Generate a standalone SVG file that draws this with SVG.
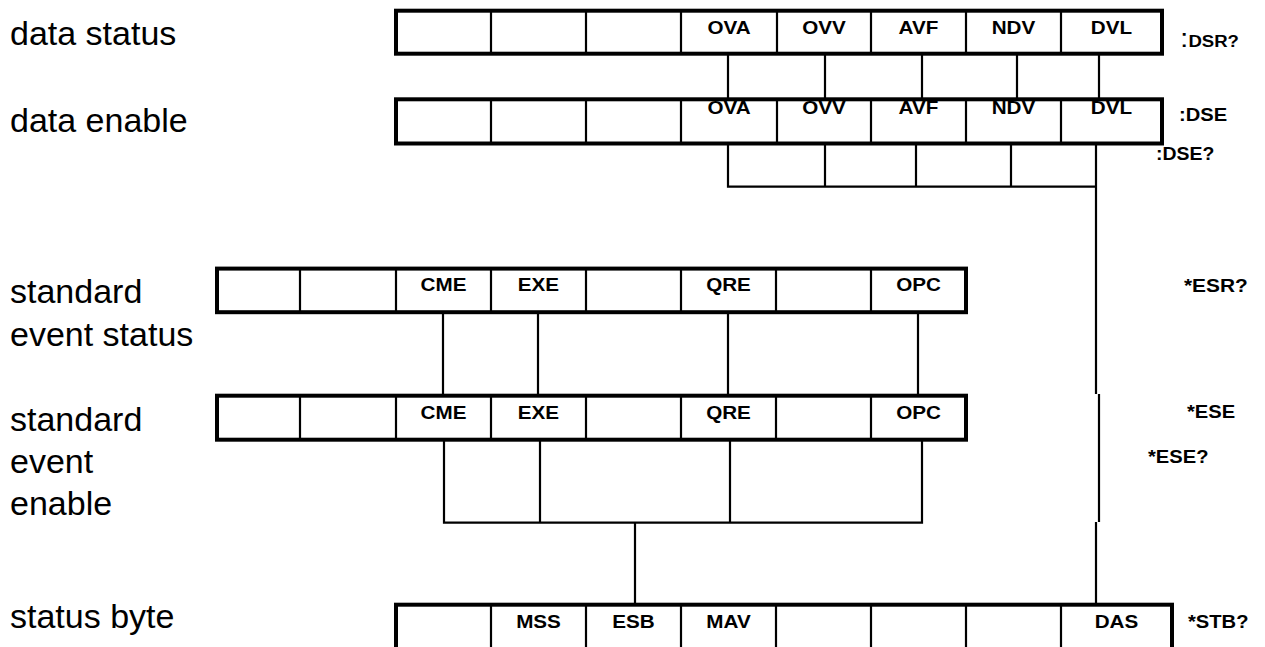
<svg xmlns="http://www.w3.org/2000/svg" width="1265" height="647" viewBox="0 0 1265 647">
<style>
.frame{fill:none;stroke:#000;stroke-width:4}
.div{fill:none;stroke:#000;stroke-width:2.2}
.conn{fill:none;stroke:#000;stroke-width:2.2}
.lbl{font-family:"Liberation Sans",Arial,sans-serif;font-size:34px;fill:#000}
.cell{font-family:"Liberation Sans",Arial,sans-serif;font-size:17.5px;font-weight:bold;text-anchor:middle;fill:#000}
.cmd{font-family:"Liberation Sans",Arial,sans-serif;font-size:18px;font-weight:bold;fill:#000}
</style>
<rect width="1265" height="647" fill="#fff"/>

<g id="labels">
<text class="lbl" x="10" y="45">data status</text>
<text class="lbl" x="10" y="132">data enable</text>
<text class="lbl" x="10" y="303">standard</text>
<text class="lbl" x="10" y="346">event status</text>
<text class="lbl" x="10" y="431">standard</text>
<text class="lbl" x="10" y="473">event</text>
<text class="lbl" x="10" y="515">enable</text>
<text class="lbl" x="10" y="628">status byte</text>
</g>

<g id="data-status">
<rect class="frame" x="396" y="10.7" width="766" height="43"/>
<path class="div" d="M491 10.7V53.7M586 10.7V53.7M681 10.7V53.7M777 10.7V53.7M871 10.7V53.7M966 10.7V53.7M1061 10.7V53.7"/>
<text class="cell" transform="translate(729,33.5) scale(1.18,1)">OVA</text>
<text class="cell" transform="translate(824,33.5) scale(1.18,1)">OVV</text>
<text class="cell" transform="translate(918.5,33.5) scale(1.18,1)">AVF</text>
<text class="cell" transform="translate(1013.5,33.5) scale(1.18,1)">NDV</text>
<text class="cell" transform="translate(1111.5,33.5) scale(1.18,1)">DVL</text>
<text class="cmd" transform="translate(1180,46.5) scale(1.16,1)"><tspan font-size="26" font-weight="normal">:</tspan><tspan font-size="16">DSR?</tspan></text>
</g>

<g id="data-enable">
<rect class="frame" x="396" y="99.3" width="766" height="44.2"/>
<path class="div" d="M491 99.3V143.5M586 99.3V143.5M681 99.3V143.5M777 99.3V143.5M871 99.3V143.5M966 99.3V143.5M1061 99.3V143.5"/>
<text class="cell" transform="translate(729,114.3) scale(1.18,1)">OVA</text>
<text class="cell" transform="translate(824,114.3) scale(1.18,1)">OVV</text>
<text class="cell" transform="translate(918.5,114.3) scale(1.18,1)">AVF</text>
<text class="cell" transform="translate(1013.5,114.3) scale(1.18,1)">NDV</text>
<text class="cell" transform="translate(1111.5,114.3) scale(1.18,1)">DVL</text>
<text class="cmd" transform="translate(1179,121) scale(1.12,1)">:DSE</text>
<text class="cmd" transform="translate(1156,160) scale(1.08,1)">:DSE?</text>
</g>

<g id="std-event-status">
<rect class="frame" x="217" y="268.6" width="749" height="43.6"/>
<path class="div" d="M300 268.6V312.2M396 268.6V312.2M491 268.6V312.2M586 268.6V312.2M681 268.6V312.2M776 268.6V312.2M871 268.6V312.2"/>
<text class="cell" transform="translate(443.5,290.7) scale(1.18,1)">CME</text>
<text class="cell" transform="translate(538.5,290.7) scale(1.18,1)">EXE</text>
<text class="cell" transform="translate(728.5,290.7) scale(1.18,1)">QRE</text>
<text class="cell" transform="translate(918.5,290.7) scale(1.18,1)">OPC</text>
<text class="cmd" transform="translate(1184,291.5) scale(1.16,1)">*ESR?</text>
</g>

<g id="std-event-enable">
<rect class="frame" x="217" y="395.7" width="749" height="44"/>
<path class="div" d="M300 395.7V439.7M396 395.7V439.7M491 395.7V439.7M586 395.7V439.7M681 395.7V439.7M776 395.7V439.7M871 395.7V439.7"/>
<text class="cell" transform="translate(443.5,419) scale(1.18,1)">CME</text>
<text class="cell" transform="translate(538.5,419) scale(1.18,1)">EXE</text>
<text class="cell" transform="translate(728.5,419) scale(1.18,1)">QRE</text>
<text class="cell" transform="translate(918.5,419) scale(1.18,1)">OPC</text>
<text class="cmd" transform="translate(1187,418) scale(1.12,1)">*ESE</text>
<text class="cmd" transform="translate(1148,463) scale(1.12,1)">*ESE?</text>
</g>

<g id="status-byte">
<rect class="frame" x="396" y="604.7" width="776" height="80"/>
<path class="div" d="M491 604.7V647M586 604.7V647M681 604.7V647M776 604.7V647M871 604.7V647M966 604.7V647M1061 604.7V647"/>
<text class="cell" transform="translate(538.5,628) scale(1.18,1)">MSS</text>
<text class="cell" transform="translate(633.5,628) scale(1.18,1)">ESB</text>
<text class="cell" transform="translate(728.5,628) scale(1.18,1)">MAV</text>
<text class="cell" transform="translate(1116.5,628) scale(1.18,1)">DAS</text>
<text class="cmd" transform="translate(1188,628) scale(1.12,1)">*STB?</text>
</g>

<g id="connectors">
<path class="conn" d="M728 53.7V99.3M825 53.7V99.3M922 53.7V99.3M1017 53.7V99.3M1099 53.7V99.3"/>
<path class="conn" d="M728 143.5V186.7H1096M825 143.5V186.7M916 143.5V186.7M1011 143.5V186.7M1096 143.5V394"/>
<path class="conn" d="M1099 394V522"/>
<path class="conn" d="M1096 522V604.7"/>
<path class="conn" d="M443 312.2V395.7M538 312.2V395.7M728 312.2V395.7M918 312.2V395.7"/>
<path class="conn" d="M444 439.7V522.7H922V439.7M540 439.7V522.7M730 439.7V522.7M635 522.7V604.7"/>
</g>
</svg>
